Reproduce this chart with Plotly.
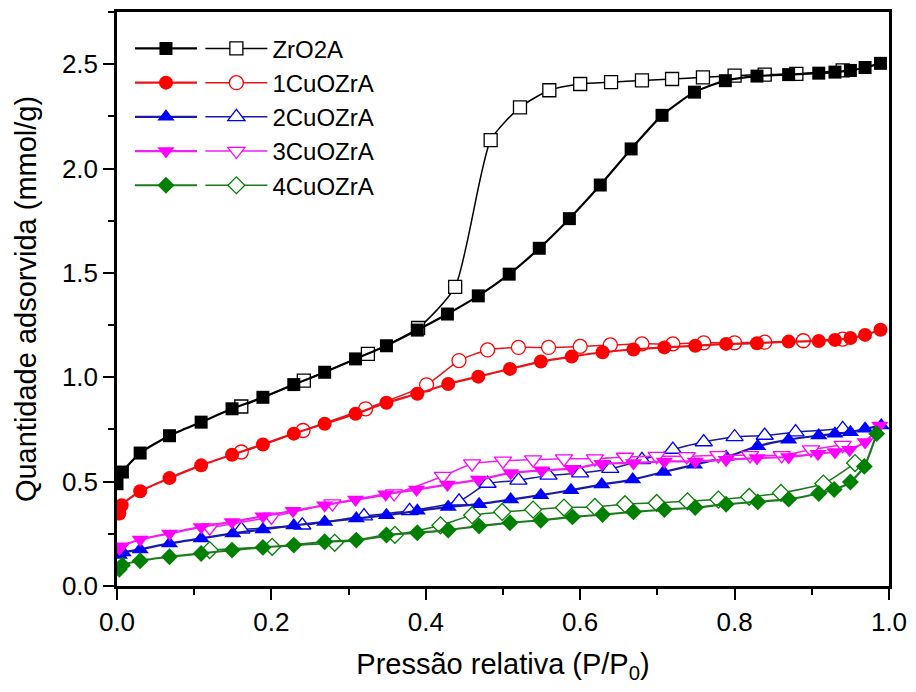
import plotly.graph_objects as go

# N2 adsorption/desorption isotherms (quantity adsorbed vs relative pressure)
series_names = ["ZrO2A", "1CuOZrA", "2CuOZrA", "3CuOZrA", "4CuOZrA"]

zro2a_ads_x = [0.000, 0.007, 0.030, 0.068, 0.109, 0.149, 0.189, 0.229, 0.269, 0.309, 0.349, 0.389, 0.428, 0.468, 0.508,
               0.547, 0.586, 0.626, 0.666, 0.706, 0.748, 0.788, 0.829, 0.870, 0.909, 0.930, 0.950, 0.969, 0.989]
zro2a_ads_y = [0.490, 0.546, 0.637, 0.720, 0.785, 0.849, 0.904, 0.965, 1.024, 1.088, 1.151, 1.226, 1.303, 1.390, 1.494,
               1.618, 1.760, 1.921, 2.094, 2.255, 2.366, 2.421, 2.443, 2.450, 2.457, 2.462, 2.470, 2.484, 2.504]
zro2a_des_x = [0.940, 0.880, 0.839, 0.800, 0.759, 0.719, 0.680, 0.640, 0.600, 0.560, 0.522, 0.484, 0.438, 0.390,
               0.325, 0.242, 0.161]
zro2a_des_y = [2.470, 2.454, 2.450, 2.445, 2.437, 2.429, 2.422, 2.414, 2.405, 2.375, 2.293, 2.136, 1.433, 1.236,
               1.112, 0.984, 0.860]

cu1_ads_x = [0.003, 0.006, 0.030, 0.068, 0.109, 0.149, 0.189, 0.229, 0.269, 0.309, 0.349, 0.389, 0.429, 0.468, 0.509,
             0.549, 0.589, 0.629, 0.669, 0.709, 0.749, 0.789, 0.829, 0.870, 0.909, 0.930, 0.950, 0.969, 0.989]
cu1_ads_y = [0.347, 0.387, 0.454, 0.517, 0.578, 0.629, 0.678, 0.730, 0.777, 0.825, 0.878, 0.921, 0.968, 1.003, 1.040,
             1.075, 1.099, 1.120, 1.133, 1.143, 1.151, 1.160, 1.163, 1.171, 1.174, 1.179, 1.188, 1.203, 1.228]
cu1_des_x = [0.940, 0.889, 0.839, 0.800, 0.760, 0.720, 0.680, 0.639, 0.600, 0.559, 0.520, 0.480, 0.443, 0.401,
             0.322, 0.241, 0.161]
cu1_des_y = [1.183, 1.175, 1.168, 1.165, 1.165, 1.160, 1.160, 1.155, 1.148, 1.143, 1.143, 1.131, 1.080, 0.964,
             0.849, 0.745, 0.642]

cu2_ads_x = [0.003, 0.008, 0.030, 0.068, 0.109, 0.150, 0.189, 0.229, 0.269, 0.310, 0.349, 0.389, 0.429, 0.469, 0.510,
             0.549, 0.588, 0.628, 0.668, 0.708, 0.748, 0.789, 0.830, 0.870, 0.909, 0.930, 0.950, 0.969, 0.990]
cu2_ads_y = [0.148, 0.160, 0.175, 0.204, 0.228, 0.252, 0.271, 0.290, 0.307, 0.323, 0.339, 0.360, 0.379, 0.392, 0.414,
             0.435, 0.459, 0.486, 0.510, 0.546, 0.581, 0.618, 0.670, 0.701, 0.721, 0.729, 0.737, 0.753, 0.769]
cu2_des_x = [0.940, 0.879, 0.839, 0.800, 0.760, 0.720, 0.680, 0.639, 0.600, 0.559, 0.520, 0.480, 0.443, 0.379,
             0.320, 0.240, 0.161]
cu2_des_y = [0.753, 0.737, 0.721, 0.714, 0.690, 0.654, 0.604, 0.562, 0.541, 0.530, 0.506, 0.491, 0.406, 0.360,
             0.335, 0.291, 0.271]

cu3_ads_x = [0.003, 0.006, 0.030, 0.068, 0.109, 0.149, 0.189, 0.228, 0.269, 0.309, 0.348, 0.388, 0.428, 0.468, 0.510,
             0.550, 0.589, 0.628, 0.669, 0.709, 0.749, 0.789, 0.829, 0.870, 0.908, 0.930, 0.949, 0.969, 0.988]
cu3_ads_y = [0.180, 0.191, 0.223, 0.252, 0.283, 0.307, 0.334, 0.360, 0.387, 0.414, 0.440, 0.462, 0.486, 0.510, 0.541,
             0.554, 0.562, 0.586, 0.589, 0.597, 0.597, 0.605, 0.613, 0.618, 0.634, 0.642, 0.653, 0.690, 0.769]
cu3_des_x = [0.940, 0.899, 0.861, 0.820, 0.779, 0.738, 0.699, 0.658, 0.619, 0.579, 0.539, 0.500, 0.460, 0.422,
             0.359, 0.279, 0.200, 0.120]
cu3_des_y = [0.675, 0.653, 0.626, 0.626, 0.626, 0.621, 0.622, 0.618, 0.610, 0.610, 0.605, 0.599, 0.586, 0.526,
             0.443, 0.395, 0.331, 0.279]

cu4_ads_x = [0.003, 0.007, 0.030, 0.068, 0.109, 0.149, 0.189, 0.229, 0.269, 0.310, 0.349, 0.389, 0.429, 0.469, 0.509,
             0.549, 0.590, 0.629, 0.669, 0.709, 0.749, 0.789, 0.830, 0.870, 0.909, 0.929, 0.950, 0.968, 0.984]
cu4_ads_y = [0.080, 0.100, 0.121, 0.140, 0.156, 0.172, 0.185, 0.196, 0.212, 0.220, 0.244, 0.255, 0.268, 0.287, 0.303,
             0.315, 0.331, 0.342, 0.355, 0.366, 0.376, 0.392, 0.403, 0.416, 0.443, 0.462, 0.498, 0.573, 0.730]
cu4_des_x = [0.956, 0.915, 0.860, 0.819, 0.779, 0.739, 0.699, 0.658, 0.619, 0.579, 0.539, 0.499, 0.460, 0.419,
             0.360, 0.282, 0.201, 0.120]
cu4_des_y = [0.589, 0.491, 0.446, 0.427, 0.414, 0.406, 0.398, 0.392, 0.379, 0.376, 0.366, 0.355, 0.339, 0.291,
             0.245, 0.207, 0.188, 0.172]

x_tick_vals = [0.0, 0.2, 0.4, 0.6, 0.8, 1.0]
x_tick_text = ["0.0", "0.2", "0.4", "0.6", "0.8", "1.0"]
y_tick_vals = [0.0, 0.5, 1.0, 1.5, 2.0, 2.5]
y_tick_text = ["0.0", "0.5", "1.0", "1.5", "2.0", "2.5"]

ads_x = [zro2a_ads_x, cu1_ads_x, cu2_ads_x, cu3_ads_x, cu4_ads_x]
ads_y = [zro2a_ads_y, cu1_ads_y, cu2_ads_y, cu3_ads_y, cu4_ads_y]
des_x = [zro2a_des_x, cu1_des_x, cu2_des_x, cu3_des_x, cu4_des_x]
des_y = [zro2a_des_y, cu1_des_y, cu2_des_y, cu3_des_y, cu4_des_y]

colors = ["#000000", "#FF0000", "#0000FF", "#FF00FF", "#008000"]
line_colors = ["#000000", "#E8141A", "#1A1AA6", "#F020F0", "#1E7A1E"]
symbols = ["square", "circle", "triangle-up", "triangle-down", "diamond"]
sizes = [13, 14, 15, 15, 13]

FONT = "Arial, Liberation Sans, sans-serif"

fig = go.Figure()
for i, name in enumerate(series_names):
    # desorption branch: open (white-filled) markers, labelled in the second legend
    fig.add_trace(go.Scatter(
        x=des_x[i], y=des_y[i], name=name, legend="legend2", legendgroup=f"g{i}",
        mode="lines+markers", line=dict(color=line_colors[i], width=1.5, shape="spline", smoothing=0.6),
        marker=dict(symbol=symbols[i], size=sizes[i], color="white",
                    line=dict(color=colors[i], width=1.3)),
        hovertemplate=name + " (desorção)<br>%{x:.3f}, %{y:.3f}<extra></extra>",
    ))
    # adsorption branch: filled markers; its legend key sits left of the named key
    fig.add_trace(go.Scatter(
        x=ads_x[i], y=ads_y[i], name="", legend="legend", legendgroup=f"g{i}",
        mode="lines+markers", line=dict(color=line_colors[i], width=2.2, shape="spline", smoothing=0.6),
        marker=dict(symbol=symbols[i], size=sizes[i], color=colors[i], line=dict(width=0)),
        hovertemplate=name + " (adsorção)<br>%{x:.3f}, %{y:.3f}<extra></extra>",
    ))

axis_common = dict(
    showgrid=False, zeroline=False, showline=True, linecolor="black", linewidth=2.5,
    mirror=True, ticks="outside", ticklen=11, tickwidth=2, tickcolor="black",
    tickfont=dict(family=FONT, size=26, color="black"),
)

legend_common = dict(xanchor="left", yanchor="top", bgcolor="rgba(0,0,0,0)",
                     itemwidth=62, tracegroupgap=1.5, traceorder="normal")

fig.update_layout(
    width=916, height=692,
    margin=dict(l=117, r=25, t=9, b=106),
    paper_bgcolor="white", plot_bgcolor="white",
    xaxis=dict(range=[0, 1], tickvals=x_tick_vals, ticktext=x_tick_text,
               minor=dict(dtick=0.1, ticks="outside", ticklen=6, tickwidth=2, tickcolor="black"),
               title=dict(text="Pressão relativa (P/P<sub>0</sub>)", standoff=18,
                          font=dict(family=FONT, size=29, color="black")),
               **axis_common),
    yaxis=dict(range=[0, 2.75], tickvals=y_tick_vals, ticktext=y_tick_text,
               minor=dict(dtick=0.25, ticks="outside", ticklen=6, tickwidth=2, tickcolor="black"),
               title=dict(text="Quantidade adsorvida (mmol/g)", standoff=17,
                          font=dict(family=FONT, size=29, color="black")),
               **axis_common),
    legend=dict(x=0.0168, y=0.975, font=dict(family=FONT, size=24, color="black"), **legend_common),
    legend2=dict(x=0.108, y=0.975, font=dict(family=FONT, size=24, color="black"), **legend_common),
    showlegend=True,
)

fig.write_html("out.html")
